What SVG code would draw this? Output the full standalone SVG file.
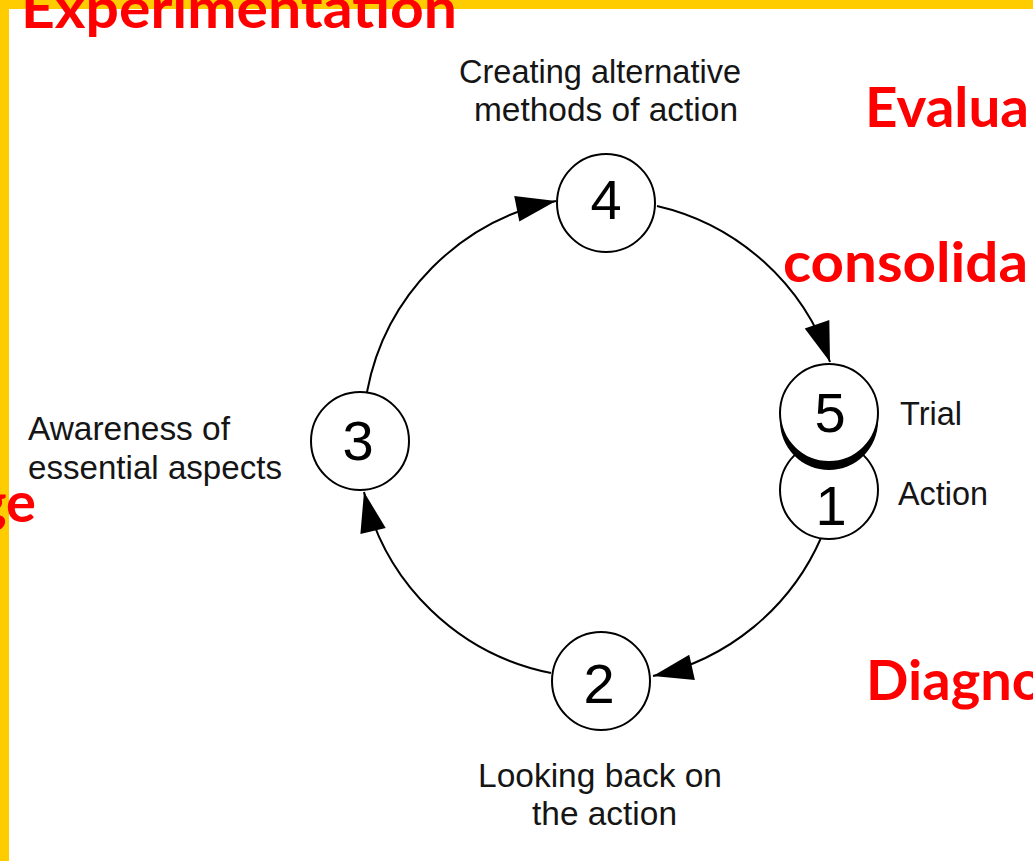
<svg xmlns="http://www.w3.org/2000/svg" width="1033" height="861" viewBox="0 0 1033 861">
  <defs>
    <style>
      .node { fill: #ffffff; stroke: #000000; stroke-width: 2; }
      .num { font-family: "Liberation Sans", Arial, sans-serif; font-size: 56px; fill: #000000; text-anchor: middle; }
      .lbl { font-family: "Liberation Sans", Arial, sans-serif; font-size: 33px; fill: #151515; }
      .edge { fill: none; stroke: #000000; stroke-width: 2; marker-end: url(#arrow); }
      .phase { font-family: Lato, "Open Sans", sans-serif; font-weight: 700; font-size: 56px; fill: #ff0000; }
    </style>
    <marker id="arrow" markerUnits="userSpaceOnUse" viewBox="-42 -14 44 28" markerWidth="44" markerHeight="28" refX="0" refY="0" orient="auto">
      <path d="M0,0 L-40,-13 L-40,13 Z" fill="#000000"/>
    </marker>
  </defs>

  <!-- page background and yellow frame -->
  <rect x="0" y="0" width="1033" height="861" fill="#ffffff"/>
  <g id="frame" fill="#ffcc00">
    <rect x="0" y="0" width="1033" height="9"/>
    <rect x="0" y="0" width="9" height="861"/>
  </g>

  <!-- cycle arrows -->
  <g id="connectors">
    <path class="edge" d="M367,392 A240,240 0 0,1 556,201"/>
    <path class="edge" d="M657,206 A240,240 0 0,1 830,362"/>
    <path class="edge" d="M821,538 A240,240 0 0,1 653,676"/>
    <path class="edge" d="M551,673 A240,240 0 0,1 364,492"/>
  </g>

  <g id="node-4">
    <circle class="node" cx="606" cy="203" r="49"/>
    <text class="num" x="606" y="219">4</text>
    <text class="lbl" x="459" y="83" textLength="282" lengthAdjust="spacingAndGlyphs">Creating alternative</text>
    <text class="lbl" x="474" y="121" textLength="264" lengthAdjust="spacingAndGlyphs">methods of action</text>
  </g>

  <g id="node-3">
    <circle class="node" cx="360" cy="441" r="49"/>
    <text class="num" x="358" y="460">3</text>
    <text class="lbl" x="28" y="440" textLength="202" lengthAdjust="spacingAndGlyphs">Awareness of</text>
    <text class="lbl" x="28" y="479" textLength="254" lengthAdjust="spacingAndGlyphs">essential aspects</text>
  </g>

  <g id="node-2">
    <circle class="node" cx="601" cy="681" r="49"/>
    <text class="num" x="599" y="703">2</text>
    <text class="lbl" x="478" y="787" textLength="244" lengthAdjust="spacingAndGlyphs">Looking back on</text>
    <text class="lbl" x="532" y="825" textLength="145" lengthAdjust="spacingAndGlyphs">the action</text>
  </g>

  <g id="node-1">
    <circle class="node" cx="829" cy="490" r="49"/>
    <text class="num" x="831" y="525">1</text>
    <text class="lbl" x="898" y="505" textLength="90" lengthAdjust="spacingAndGlyphs">Action</text>
  </g>

  <g id="node-5">
    <!-- dark drop shadow under the trial circle -->
    <circle cx="829" cy="421" r="49" fill="#000000"/>
    <circle class="node" cx="829" cy="413" r="49"/>
    <text class="num" x="830" y="432">5</text>
    <text class="lbl" x="900" y="425" textLength="62" lengthAdjust="spacingAndGlyphs">Trial</text>
  </g>

  <!-- phase captions -->
  <g id="phases">
    <text class="phase" x="21" y="28" textLength="436" lengthAdjust="spacingAndGlyphs">Experimentation</text>
    <text class="phase" x="865" y="127" textLength="164" lengthAdjust="spacingAndGlyphs">Evalua</text>
    <text class="phase" x="783" y="282" textLength="245" lengthAdjust="spacingAndGlyphs">consolida</text>
    <text class="phase" x="866" y="700" textLength="178" lengthAdjust="spacingAndGlyphs">Diagno</text>
    <text class="phase" x="36" y="522" text-anchor="end">ge</text>
  </g>
</svg>
